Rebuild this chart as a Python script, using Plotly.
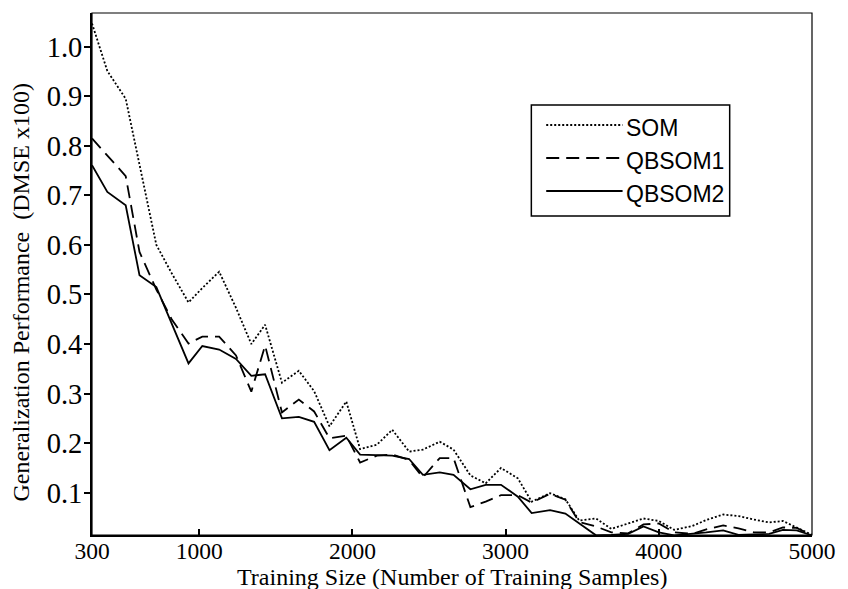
import plotly.graph_objects as go

# ---------------- data ----------------
training_size = [300, 400, 520, 610, 720, 820, 930, 1020, 1130, 1240, 1340, 1430,
                 1540, 1650, 1750, 1850, 1960, 2050, 2160, 2260, 2370, 2460, 2570,
                 2660, 2770, 2870, 2970, 3080, 3170, 3290, 3390, 3480, 3590, 3690,
                 3800, 3900, 4000, 4100, 4220, 4310, 4420, 4520, 4620, 4720, 4810,
                 4900, 5000]

som = [1.047, 0.951, 0.895, 0.760, 0.600, 0.543, 0.484, 0.513, 0.546, 0.473, 0.400, 0.439,
       0.322, 0.346, 0.305, 0.234, 0.284, 0.188, 0.197, 0.227, 0.183, 0.187, 0.203,
       0.187, 0.135, 0.119, 0.150, 0.129, 0.082, 0.099, 0.087, 0.044, 0.048, 0.027,
       0.038, 0.048, 0.043, 0.025, 0.033, 0.045, 0.056, 0.053, 0.046, 0.040, 0.043,
       0.030, 0.015]

qbsom1 = [0.815, 0.780, 0.739, 0.586, 0.510, 0.450, 0.401, 0.415, 0.415, 0.377, 0.304, 0.397,
          0.262, 0.288, 0.264, 0.210, 0.215, 0.161, 0.175, 0.177, 0.166, 0.131, 0.170,
          0.170, 0.071, 0.082, 0.095, 0.095, 0.080, 0.098, 0.086, 0.041, 0.032, 0.020,
          0.018, 0.036, 0.038, 0.020, 0.017, 0.026, 0.034, 0.028, 0.020, 0.020, 0.030,
          0.029, 0.014]

qbsom2 = [0.761, 0.707, 0.680, 0.539, 0.515, 0.440, 0.361, 0.396, 0.389, 0.370, 0.336, 0.339,
          0.250, 0.253, 0.243, 0.186, 0.211, 0.177, 0.176, 0.175, 0.168, 0.136, 0.141,
          0.136, 0.107, 0.116, 0.116, 0.092, 0.059, 0.065, 0.058, 0.038, 0.014, 0.015,
          0.017, 0.032, 0.020, 0.014, 0.017, 0.020, 0.024, 0.015, 0.016, 0.017, 0.025,
          0.024, 0.014]

series_names = ["SOM", "QBSOM1", "QBSOM2"]
x_tick_values = [300, 1000, 2000, 3000, 4000, 5000]
y_tick_values = [0.1, 0.2, 0.3, 0.4, 0.5, 0.6, 0.7, 0.8, 0.9, 1.0]
x_title = "Training Size (Number of Training Samples)"
y_title = "Generalization Performance\u00a0\u00a0(DMSE x100)"

# ---------------- styling ----------------
W, H = 848, 589
ML, MR, MT, MB = 92, 30, 13, 54
PW, PH = W - ML - MR, H - MT - MB
SERIF = "Liberation Serif, Times New Roman, serif"
SANS = "Liberation Sans, Arial, sans-serif"
dashes = ["2px,2px", "13px,7px", "solid"]
widths = [1.8, 1.8, 1.8]


def px_x(p):
    return (p - ML) / PW


def px_y(p):
    return (H - MB - p) / PH


fig = go.Figure()
for name, vals, dsh, w in zip(series_names, [som, qbsom1, qbsom2], dashes, widths):
    fig.add_trace(go.Scatter(x=training_size, y=vals, mode="lines", name=name,
                             line=dict(color="black", width=w, dash=dsh),
                             showlegend=False))

shapes = [dict(type="rect", xref="paper", yref="paper", x0=0, x1=1, y0=0, y1=1,
               line=dict(color="black", width=1.2), layer="above")]
annotations = []

# manual legend (box, line samples, labels)
shapes.append(dict(type="rect", xref="paper", yref="paper",
                   x0=px_x(535), x1=px_x(735), y0=px_y(216), y1=px_y(105),
                   line=dict(color="black", width=1.5), fillcolor="white", layer="above"))
leg_rows = [125, 158, 191]
for name, dsh, w, ry in zip(series_names, dashes, widths, leg_rows):
    shapes.append(dict(type="line", xref="paper", yref="paper",
                       x0=px_x(550), x1=px_x(627), y0=px_y(ry), y1=px_y(ry),
                       line=dict(color="black", width=w, dash=dsh), layer="above"))
    annotations.append(dict(text=name, xref="paper", yref="paper",
                            x=px_x(628), y=px_y(ry + 3), xanchor="left", yanchor="middle",
                            showarrow=False, font=dict(family=SANS, size=23, color="black")))

# axis titles
annotations.append(dict(text=x_title, xref="paper", yref="paper", x=0.5, y=px_y(577),
                        xanchor="center", yanchor="middle", showarrow=False,
                        font=dict(family=SERIF, size=24, color="black")))
annotations.append(dict(text=y_title, xref="paper", yref="paper", x=px_x(20), y=px_y(292),
                        xanchor="center", yanchor="middle", showarrow=False, textangle=-90,
                        font=dict(family=SERIF, size=24, color="black")))

fig.update_layout(
    width=W, height=H,
    margin=dict(l=ML, r=MR, t=MT, b=MB, pad=0),
    paper_bgcolor="white", plot_bgcolor="white",
    shapes=shapes, annotations=annotations,
    showlegend=False,
)
fig.update_xaxes(range=[300, 5000], tickvals=x_tick_values,
                 ticktext=[str(v) for v in x_tick_values],
                 showline=True, linecolor="black", linewidth=2,
                 ticks="inside", ticklen=6, tickwidth=2, tickcolor="black",
                 showgrid=False, zeroline=False, ticklabelstandoff=-6,
                 tickfont=dict(family=SERIF, size=23.5, color="black"))
fig.update_yaxes(range=[0.0147, 1.068], tickvals=y_tick_values,
                 ticktext=[f"{v:.1f}" for v in y_tick_values],
                 showline=True, linecolor="black", linewidth=2,
                 ticks="outside", ticklen=6, tickwidth=2, tickcolor="black",
                 showgrid=False, zeroline=False, ticklabelstandoff=-4,
                 tickfont=dict(family=SERIF, size=28.5, color="black"))

fig.write_html("out.html")
